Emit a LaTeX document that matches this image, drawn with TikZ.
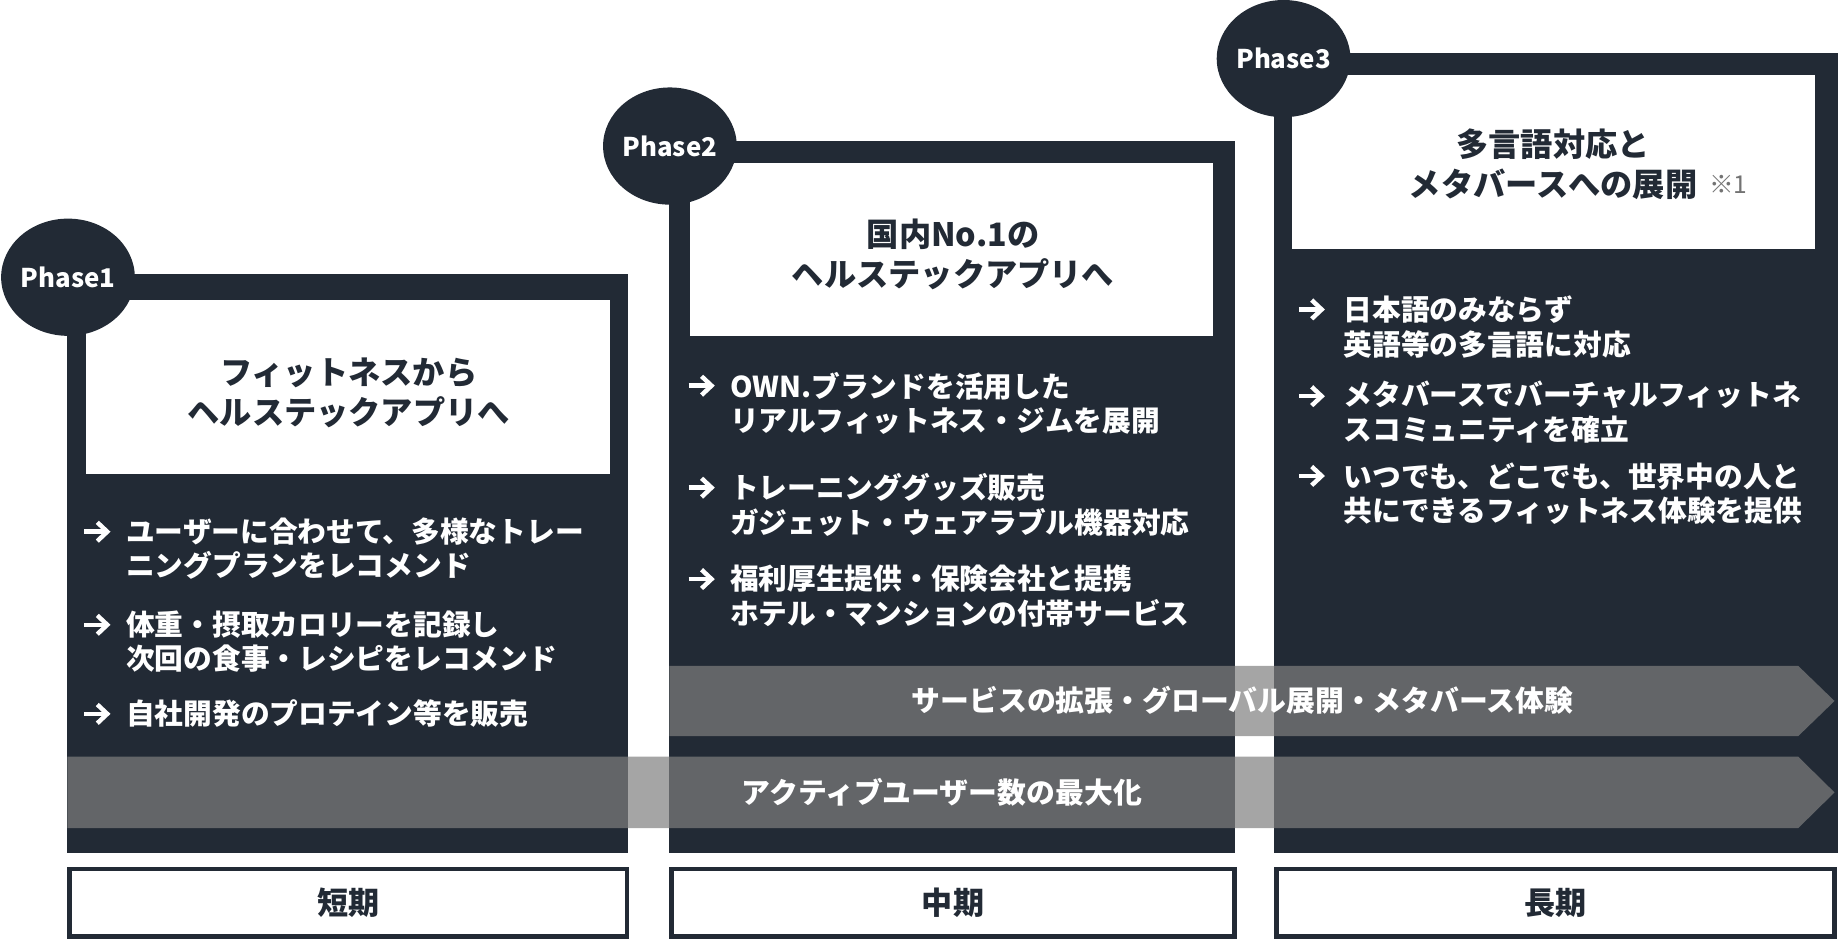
\documentclass[tikz,border=0pt]{standalone}
\usepackage{fontspec}
\setmainfont{Noto Sans CJK JP}
\usetikzlibrary{shapes.geometric}
\definecolor{navy}{HTML}{222A35}
\definecolor{bandgray}{RGB}{127,127,127}
\newcommand\notefont{\mdseries\fontsize{21}{21}\selectfont\color{black!55}}
\begin{document}
\begin{tikzpicture}[x=1pt,y=-1pt,
  framefill/.style={fill=navy},
  titlefill/.style={fill=white},
  phase/.style={ellipse, fill=navy, text=white, minimum width=105pt, minimum height=100pt, inner sep=0pt, font=\bfseries\fontsize{22}{22}\selectfont},
  titletext/.style={align=center, inner sep=0pt, text=navy, font=\bfseries\fontsize{27.5}{34}\selectfont},
  bullet/.style={anchor=west, align=left, inner sep=0pt, text=white, font=\bfseries\fontsize{24.5}{29.5}\selectfont},
  band/.style={fill=bandgray, fill opacity=0.7},
  bandtext/.style={inner sep=0pt, text=white, font=\bfseries\fontsize{24.6}{30}\selectfont},
  labelbox/.style={draw=navy, line width=4pt, fill=white, inner sep=0pt, text=navy, font=\bfseries\fontsize{26.5}{30}\selectfont},
  arrowstroke/.style={draw=white, line width=3.8pt, line join=miter, line cap=butt},
  bularr/.pic={
    \draw[arrowstroke] (0,0) -- (17,0);
    \draw[arrowstroke] (11,-8) -- (19.5,0) -- (11,8);
  }
]
\useasboundingbox (0,0) rectangle (1568,804);
% frames
\fill[framefill] (57.5,234) rectangle (535.5,728);
\fill[framefill] (571,120.2) rectangle (1053.3,728);
\fill[framefill] (1087,45.5) rectangle (1568,728);
% title boxes
\fill[titlefill] (73,256) rectangle (520.5,404);
\fill[titlefill] (588.5,138.7) rectangle (1035,287);
\fill[titlefill] (1102.3,63.9) rectangle (1548.5,212.5);
% phase badges
\node[phase] (p1) at (58,236.5) {Phase1};
\node[phase] (p2) at (571.5,124.6) {Phase2};
\node[phase] (p3) at (1095,50) {Phase3};
% titles
\node[titletext] (t1) at (297.5,335) {フィットネスから\\ヘルステックアプリへ};
\node[titletext] (t2) at (813,217) {国内No.1の\\ヘルステックアプリへ};
\node[titletext] (t3) at (1325,140.3) {多言語対応と\\メタバースへの展開\rlap{\hspace{10pt}\raisebox{3pt}{\notefont ※1}}};
% bullets column 1
\pic at (72,453.6) {bularr};
\pic at (72,533) {bularr};
\pic at (72,609) {bularr};
\node[bullet] (b11) at (107.5,468) {ユーザーに合わせて、多様なトレー\\ニングプランをレコメンド};
\node[bullet] (b12) at (107.5,547.5) {体重・摂取カロリーを記録し\\次回の食事・レシピをレコメンド};
\node[bullet] (b13) at (107.5,609) {自社開発のプロテイン等を販売};
% bullets column 2
\pic at (587.5,329) {bularr};
\pic at (587.5,416) {bularr};
\pic at (587.5,494) {bularr};
\node[bullet] (b21) at (622.6,344) {OWN.ブランドを活用した\\リアルフィットネス・ジムを展開};
\node[bullet] (b22) at (622.6,430.5) {トレーニンググッズ販売\\ガジェット・ウェアラブル機器対応};
\node[bullet] (b23) at (622.6,508.5) {福利厚生提供・保険会社と提携\\ホテル・マンションの付帯サービス};
% bullets column 3
\pic at (1108,264) {bularr};
\pic at (1108,338) {bularr};
\pic at (1108,406) {bularr};
\node[bullet] (b31) at (1146,279) {日本語のみならず\\英語等の多言語に対応};
\node[bullet] (b32) at (1146,351.5) {メタバースでバーチャルフィットネ\\スコミュニティを確立};
\node[bullet] (b33) at (1146,421) {いつでも、どこでも、世界中の人と\\共にできるフィットネス体験を提供};
% band arrows
\fill[band] (571,568) -- (1534,568) -- (1565,598) -- (1534,628) -- (571,628) -- cycle;
\node[bandtext] (a1) at (1060,597) {サービスの拡張・グローバル展開・メタバース体験};
\fill[band] (57.5,645.5) -- (1534,645.5) -- (1565,676) -- (1534,706.5) -- (57.5,706.5) -- cycle;
\node[bandtext] (a2) at (803.5,676) {アクティブユーザー数の最大化};
% period labels
\node[labelbox, minimum width=476pt, minimum height=57.6pt] (l1) at (297,770) {短期};
\node[labelbox, minimum width=480pt, minimum height=57.6pt] (l2) at (813,770) {中期};
\node[labelbox, minimum width=476pt, minimum height=57.6pt] (l3) at (1327,770) {長期};
\end{tikzpicture}
\end{document}
